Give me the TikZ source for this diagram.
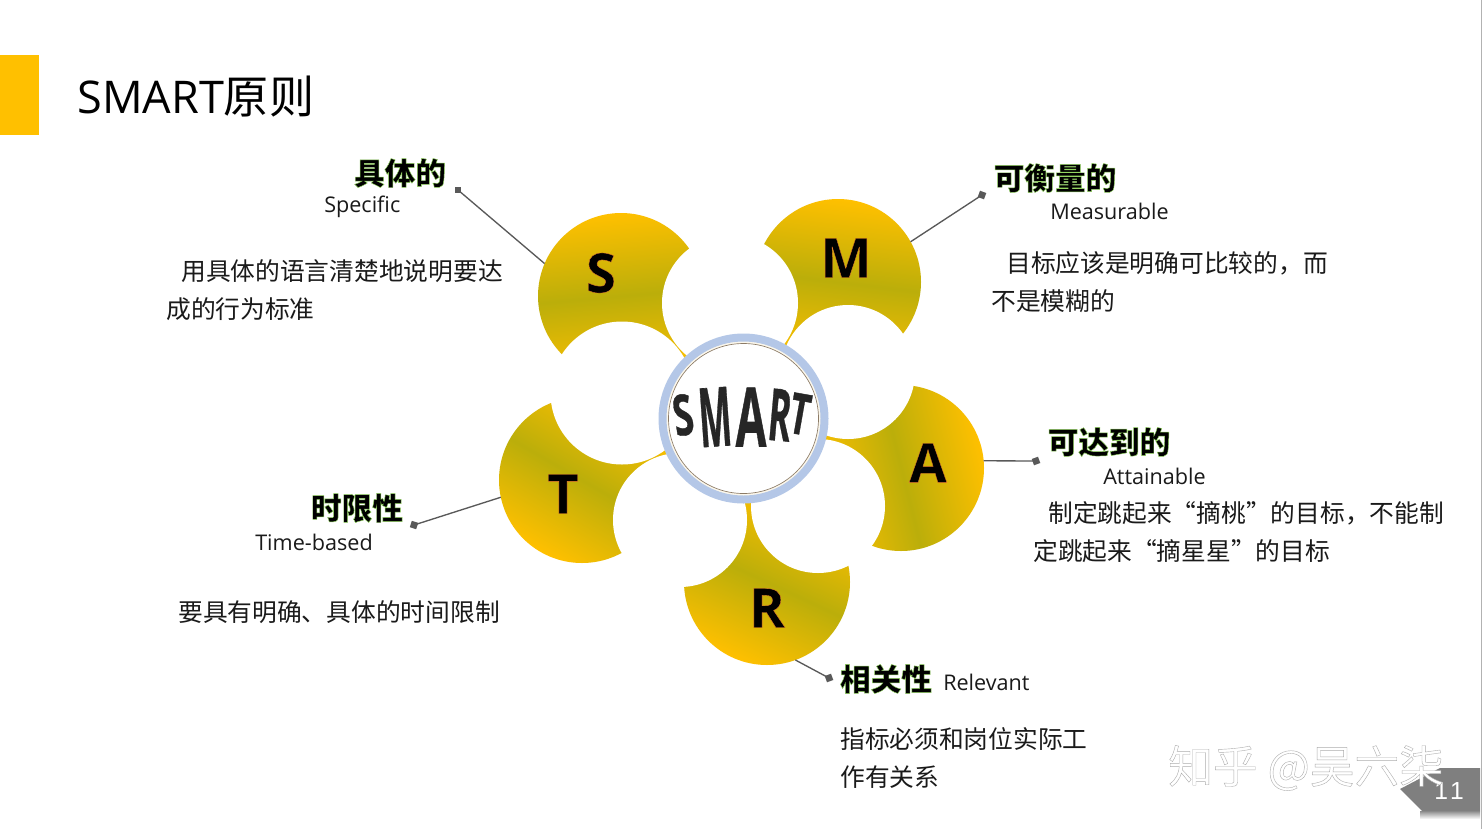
\documentclass[tikz,border=0pt]{standalone}
\usepackage{fontspec}
\usepackage{graphicx}
\setmainfont{Open Sans}
\newfontfamily\cjk{Noto Sans CJK SC}
\newfontfamily\headcjk[BoldFeatures={FakeBold=1.5}]{Noto Sans CJK SC}
\newfontfamily\letterf[BoldFeatures={FakeBold=0.6}]{Open Sans}
\newfontfamily\warpf[BoldFeatures={FakeBold=0.8}]{Open Sans}
\newfontfamily\markf[FakeBold=0.9]{Noto Sans CJK SC}
\newfontfamily\numf{Liberation Sans}
\newcommand\strokergb[1]{\special{pdf:code #1 RG}}
\newcommand\glow[1]{\strokergb{0.58 0.84 0.38}#1}
\newcommand\rim[1]{\strokergb{0.93 0.49 0.19}#1}
\definecolor{goldA}{HTML}{FFC000}
\definecolor{oliveA}{HTML}{BBAE0A}
\definecolor{stemA}{HTML}{F5BE00}
\definecolor{ringA}{HTML}{B4C7E7}
\definecolor{creamA}{HTML}{FBF7EC}
\definecolor{ringline}{HTML}{8C7B66}
\definecolor{inkA}{HTML}{1A1A1A}
\definecolor{linkA}{HTML}{595959}
\definecolor{tagA}{HTML}{7F7F7F}
\tikzset{
  petal/.style={circle,inner sep=0pt,outer sep=0pt,minimum size=124.5pt,top color=goldA,bottom color=goldA,middle color=oliveA,shading angle=#1},
  hole/.style={circle,inner sep=0pt,outer sep=0pt,fill=white,minimum size=#1*1.5pt},
  stemline/.style={line width=12pt,stemA},
  linkline/.style={linkA,line width=1pt},
  dotbox/.style={rectangle,inner sep=0pt,minimum size=5pt,fill=linkA},
  body/.style={font=\cjk\fontsize{18.55}{22}\selectfont,inner sep=0pt,anchor=west,text=inkA},
  head/.style={font=\headcjk\bfseries\fontsize{23}{27}\selectfont,inner sep=0pt,anchor=center,text=black},
  latin/.style={font=\fontsize{16.2}{18}\selectfont,inner sep=0pt,anchor=base west,text=inkA},
  letterb/.style={font=\letterf\bfseries\fontsize{41}{46}\selectfont,inner sep=0pt,text=black},
  warp/.style={font=\warpf\bfseries\fontsize{38}{42}\selectfont,inner sep=0pt,text=black!85},
}
\begin{document}
\begin{tikzpicture}[x=0.75pt,y=-0.75pt]
\useasboundingbox (0,0) rectangle (1482,829);
\fill[white] (0,0) rectangle (1482,829);
\draw[black!30,line width=0.75pt] (1481,0) -- (1481,829);
\fill[goldA] (0,55) rectangle (39,135);
\node[inner sep=0pt,anchor=west,text=black] (title) at (77,97) {\fontsize{33.8}{38}\selectfont SMART{\cjk 原则}};
% centres
\coordinate (cS) at (621,296);
\coordinate (cM) at (838,282);
\coordinate (cA) at (901,468);
\coordinate (cR) at (767,582);
\coordinate (cT) at (582,480);
\coordinate (cH) at (743.5,418.5);
% stems
\draw[stemline] (cS) -- (cH);
\draw[stemline] (cM) -- (cH);
\draw[stemline] (cA) -- (cH);
\draw[stemline] (cR) -- (cH);
\draw[stemline] (cT) -- (cH);
% petals
\node[petal=5] (petS) at (cS) {};
\node[petal=-7] (petM) at (cM) {};
\node[petal=-76] (petA) at (cA) {};
\node[petal=-25] (petR) at (cR) {};
\node[petal=-30] (petT) at (cT) {};
% cut-outs
\node[hole=68] (hSM) at (730,303) {};
\node[hole=67] (hMA) at (848,372) {};
\node[hole=67] (hAR) at (818,506) {};
\node[hole=67] (hRT) at (680,520) {};
\node[hole=71.5] (hTS) at (622,393) {};
% hub
\node[circle,inner sep=0pt,outer sep=0pt,minimum size=121.5pt,fill=creamA,draw=ringA,line width=6pt] (hub) at (cH) {};
\node[circle,inner sep=0pt,outer sep=0pt,minimum size=112.5pt,fill=white,draw=ringline,line width=0.5pt] (hubin) at (cH) {};
\node[warp,rotate=9] (w1) at (683,415) {\scalebox{0.72}[1.12]{S}};
\node[warp,rotate=4] (w2) at (715,417) {\scalebox{0.68}[1.62]{M}};
\node[warp] (w3) at (751,417) {\scalebox{0.88}[1.62]{A}};
\node[warp,rotate=-5] (w4) at (780,415) {\scalebox{0.68}[1.42]{R}};
\node[warp,rotate=-10] (w5) at (800,414) {\scalebox{0.68}[1.12]{T}};
% letters
\node[letterb] (lS) at (601,273) {\rim{S}};
\node[letterb] (lM) at (846,258) {\rim{M}};
\node[letterb] (lA) at (928,463) {\rim{A}};
\node[letterb] (lR) at (767,608) {\rim{R}};
\node[letterb] (lT) at (563,494) {\rim{T}};
% connectors
\node[dotbox] (dS) at (458,190) {};
\node[dotbox,rotate=-20] (dM) at (982,195) {};
\node[dotbox,rotate=20] (dA) at (1036,461) {};
\node[dotbox,rotate=20] (dR) at (829,678) {};
\node[dotbox,rotate=-18] (dT) at (414,525) {};
\draw[linkline] (petS.157) -- (dS.center);
\draw[linkline] (petM.29) -- (dM.center);
\draw[linkline] (petA.5) -- (dA.center);
\draw[linkline] (petR.-70) -- (dR.center);
\draw[linkline] (petT.192) -- (dT.center);
% S
\node[head] (hS) at (400,173) {\glow{具体的}};
\node[latin] (eS) at (324,212) {Specific};
\node[body] (bS1) at (181,271) {用具体的语言清楚地说明要达};
\node[body] (bS2) at (166,309) {成的行为标准};
% M
\node[head] (hM) at (1055,178) {\glow{可衡量的}};
\node[latin] (eM) at (1050,219) {Measurable};
\node[body] (bM1) at (1006,263) {目标应该是明确可比较的，而};
\node[body] (bM2) at (991,301) {不是模糊的};
% A
\node[head] (hA) at (1109,442) {\glow{可达到的}};
\node[latin] (eA) at (1103,484) {Attainable};
\node[body] (bA1) at (1048,513) {制定跳起来“摘桃”的目标，不能制};
\node[body] (bA2) at (1033,551) {定跳起来“摘星星”的目标};
% R
\node[head] (hR) at (886,679) {\glow{相关性}};
\node[latin] (eR) at (943,690) {Relevant};
\node[body] (bR1) at (840,739) {指标必须和岗位实际工};
\node[body] (bR2) at (840,777) {作有关系};
% T
\node[head] (hT) at (357,508) {\glow{时限性}};
\node[latin] (eT) at (255,550) {Time-based};
\node[body] (bT1) at (178,612) {要具有明确、具体的时间限制};
% tag
\shade[top color=black!45,bottom color=white] (1420,811) rectangle (1480,819);
\fill[tagA] (1400,789) -- (1440,768) -- (1480,768) -- (1480,811) -- (1422,811) -- cycle;
\node[inner sep=0pt,text=white] (num) at (1449,791) {\numf\fontsize{18.5}{22}\selectfont 1\kern1.5pt 1};
% watermark
\node[inner sep=0pt,anchor=west,text=white] (mark) at (1168,768) {\markf\fontsize{33.5}{38}\selectfont\strokergb{0.68 0.68 0.68}知乎 @吴六柒};
\end{tikzpicture}
\end{document}
